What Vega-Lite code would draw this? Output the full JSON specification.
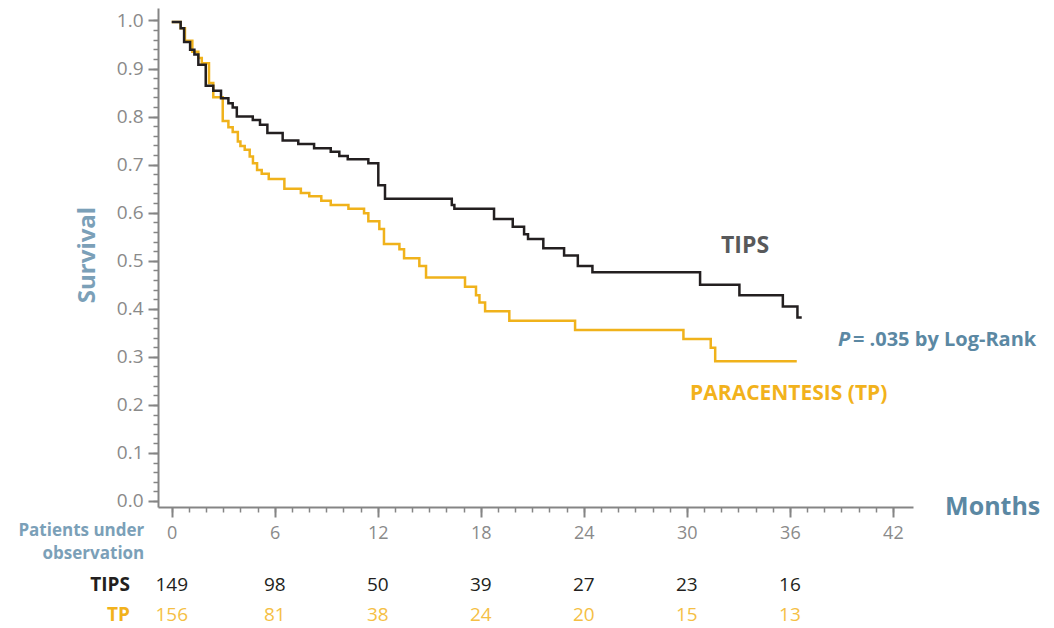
{
  "$schema": "https://vega.github.io/schema/vega-lite/v6.json",
  "width": 755,
  "height": 499,
  "autosize": {"type": "none"},
  "padding": {"left": 158, "top": 8, "right": 141, "bottom": 121},
  "background": "white",
  "config": {
    "view": {"stroke": null},
    "font": "Open Sans",
    "axis": {
      "grid": false, "title": null,
      "domainColor": "#858585", "domainWidth": 2,
      "tickColor": "#858585", "tickWidth": 1.8,
      "labelColor": "#8a8a8a", "labelFont": "Open Sans",
      "labelFlush": false, "labelOverlap": false
    },
    "axisX": {"labelFontSize": 18, "labelPadding": 7},
    "axisY": {"labelFontSize": 19, "labelPadding": 5}
  },
  "resolve": {"axis": {"x": "independent", "y": "independent"}},
  "datasets": {
    "km": [
      {"group": "TP", "month": 0, "surv": 0.997},
      {"group": "TP", "month": 0.52, "surv": 0.984},
      {"group": "TP", "month": 0.77, "surv": 0.958},
      {"group": "TP", "month": 1.2, "surv": 0.935},
      {"group": "TP", "month": 1.55, "surv": 0.922},
      {"group": "TP", "month": 1.75, "surv": 0.911},
      {"group": "TP", "month": 2.17, "surv": 0.87},
      {"group": "TP", "month": 2.42, "surv": 0.84},
      {"group": "TP", "month": 2.97, "surv": 0.791},
      {"group": "TP", "month": 3.3, "surv": 0.778},
      {"group": "TP", "month": 3.55, "surv": 0.768},
      {"group": "TP", "month": 3.85, "surv": 0.748},
      {"group": "TP", "month": 4.0, "surv": 0.739},
      {"group": "TP", "month": 4.25, "surv": 0.731},
      {"group": "TP", "month": 4.54, "surv": 0.717},
      {"group": "TP", "month": 4.73, "surv": 0.703},
      {"group": "TP", "month": 4.97, "surv": 0.689},
      {"group": "TP", "month": 5.24, "surv": 0.681},
      {"group": "TP", "month": 5.65, "surv": 0.67},
      {"group": "TP", "month": 6.56, "surv": 0.65},
      {"group": "TP", "month": 7.52, "surv": 0.641},
      {"group": "TP", "month": 8.01, "surv": 0.634},
      {"group": "TP", "month": 8.71, "surv": 0.625},
      {"group": "TP", "month": 9.26, "surv": 0.616},
      {"group": "TP", "month": 10.29, "surv": 0.608},
      {"group": "TP", "month": 11.2, "surv": 0.599},
      {"group": "TP", "month": 11.45, "surv": 0.582},
      {"group": "TP", "month": 12.09, "surv": 0.566},
      {"group": "TP", "month": 12.36, "surv": 0.535},
      {"group": "TP", "month": 13.26, "surv": 0.524},
      {"group": "TP", "month": 13.53, "surv": 0.505},
      {"group": "TP", "month": 14.42, "surv": 0.489},
      {"group": "TP", "month": 14.81, "surv": 0.465},
      {"group": "TP", "month": 17.08, "surv": 0.446},
      {"group": "TP", "month": 17.72, "surv": 0.428},
      {"group": "TP", "month": 17.92, "surv": 0.413},
      {"group": "TP", "month": 18.25, "surv": 0.395},
      {"group": "TP", "month": 19.66, "surv": 0.375},
      {"group": "TP", "month": 23.49, "surv": 0.356},
      {"group": "TP", "month": 29.8, "surv": 0.337},
      {"group": "TP", "month": 31.39, "surv": 0.319},
      {"group": "TP", "month": 31.65, "surv": 0.291},
      {"group": "TP", "month": 36.4, "surv": 0.291},
      {"group": "TIPS", "month": 0, "surv": 0.997},
      {"group": "TIPS", "month": 0.52, "surv": 0.984},
      {"group": "TIPS", "month": 0.72, "surv": 0.955},
      {"group": "TIPS", "month": 1.07, "surv": 0.939},
      {"group": "TIPS", "month": 1.32, "surv": 0.929},
      {"group": "TIPS", "month": 1.55, "surv": 0.908},
      {"group": "TIPS", "month": 1.98, "surv": 0.864},
      {"group": "TIPS", "month": 2.42, "surv": 0.854},
      {"group": "TIPS", "month": 2.87, "surv": 0.838},
      {"group": "TIPS", "month": 3.3, "surv": 0.828},
      {"group": "TIPS", "month": 3.55, "surv": 0.819},
      {"group": "TIPS", "month": 3.79, "surv": 0.8},
      {"group": "TIPS", "month": 4.72, "surv": 0.793},
      {"group": "TIPS", "month": 5.14, "surv": 0.783},
      {"group": "TIPS", "month": 5.57, "surv": 0.766},
      {"group": "TIPS", "month": 6.46, "surv": 0.75},
      {"group": "TIPS", "month": 7.37, "surv": 0.743},
      {"group": "TIPS", "month": 8.29, "surv": 0.734},
      {"group": "TIPS", "month": 9.26, "surv": 0.727},
      {"group": "TIPS", "month": 9.76, "surv": 0.718},
      {"group": "TIPS", "month": 10.25, "surv": 0.711},
      {"group": "TIPS", "month": 11.45, "surv": 0.703},
      {"group": "TIPS", "month": 12.03, "surv": 0.657},
      {"group": "TIPS", "month": 12.42, "surv": 0.629},
      {"group": "TIPS", "month": 16.31, "surv": 0.616},
      {"group": "TIPS", "month": 16.46, "surv": 0.608},
      {"group": "TIPS", "month": 18.77, "surv": 0.587},
      {"group": "TIPS", "month": 19.86, "surv": 0.571},
      {"group": "TIPS", "month": 20.52, "surv": 0.555},
      {"group": "TIPS", "month": 20.75, "surv": 0.545},
      {"group": "TIPS", "month": 21.64, "surv": 0.526},
      {"group": "TIPS", "month": 22.85, "surv": 0.511},
      {"group": "TIPS", "month": 23.65, "surv": 0.489},
      {"group": "TIPS", "month": 24.5, "surv": 0.476},
      {"group": "TIPS", "month": 30.77, "surv": 0.45},
      {"group": "TIPS", "month": 33.06, "surv": 0.428},
      {"group": "TIPS", "month": 35.59, "surv": 0.405},
      {"group": "TIPS", "month": 36.44, "surv": 0.382},
      {"group": "TIPS", "month": 36.69, "surv": 0.382}
    ],
    "risk": [
      {"group": "TIPS", "month": 0, "n": 149},
      {"group": "TIPS", "month": 6, "n": 98},
      {"group": "TIPS", "month": 12, "n": 50},
      {"group": "TIPS", "month": 18, "n": 39},
      {"group": "TIPS", "month": 24, "n": 27},
      {"group": "TIPS", "month": 30, "n": 23},
      {"group": "TIPS", "month": 36, "n": 16},
      {"group": "TP", "month": 0, "n": 156},
      {"group": "TP", "month": 6, "n": 81},
      {"group": "TP", "month": 12, "n": 38},
      {"group": "TP", "month": 18, "n": 24},
      {"group": "TP", "month": 24, "n": 20},
      {"group": "TP", "month": 30, "n": 15},
      {"group": "TP", "month": 36, "n": 13}
    ],
    "one": [{}]
  },
  "layer": [
    {
      "data": {"name": "km"},
      "transform": [{"filter": "datum.group == 'TIPS'"}],
      "mark": {"type": "line", "interpolate": "step-after", "color": "#231f20", "strokeWidth": 2.4, "opacity": 0},
      "encoding": {
        "x": {
          "field": "month", "type": "quantitative",
          "scale": {"domain": [-0.8, 43.17], "nice": false, "zero": false},
          "axis": {
            "orient": "bottom", "domain": false, "labels": false, "tickSize": 5, "tickWidth": 1.5,
            "values": [0,1,2,3,4,5,6,7,8,9,10,11,12,13,14,15,16,17,18,19,20,21,22,23,24,25,26,27,28,29,30,31,32,33,34,35,36,37,38,39,40,41,42]
          }
        },
        "y": {
          "field": "surv", "type": "quantitative",
          "scale": {"domain": [-0.0125, 1.026], "nice": false, "zero": false},
          "axis": {
            "orient": "left", "domain": false, "labels": false, "tickSize": 5, "tickWidth": 1.5,
            "values": [0,0.02,0.04,0.06,0.08,0.1,0.12,0.14,0.16,0.18,0.2,0.22,0.24,0.26,0.28,0.3,0.32,0.34,0.36,0.38,0.4,0.42,0.44,0.46,0.48,0.5,0.52,0.54,0.56,0.58,0.6,0.62,0.64,0.66,0.68,0.7,0.72,0.74,0.76,0.78,0.8,0.82,0.84,0.86,0.88,0.9,0.92,0.94,0.96,0.98,1.0]
          }
        }
      }
    },
    {
      "data": {"name": "km"},
      "transform": [{"filter": "datum.group == 'TP'"}],
      "mark": {"type": "line", "interpolate": "step-after", "color": "#f0b21b", "strokeWidth": 2.5},
      "encoding": {
        "x": {
          "field": "month", "type": "quantitative",
          "axis": {"orient": "bottom", "tickSize": 10, "tickWidth": 2, "values": [0, 6, 12, 18, 24, 30, 36, 42]}
        },
        "y": {
          "field": "surv", "type": "quantitative",
          "axis": {"orient": "left", "tickSize": 10, "tickWidth": 2, "format": ".1f", "values": [0, 0.1, 0.2, 0.3, 0.4, 0.5, 0.6, 0.7, 0.8, 0.9, 1.0]}
        }
      }
    },
    {
      "data": {"name": "km"},
      "transform": [{"filter": "datum.group == 'TIPS'"}],
      "mark": {"type": "line", "interpolate": "step-after", "color": "#231f20", "strokeWidth": 2.5},
      "encoding": {
        "x": {"field": "month", "type": "quantitative", "axis": null},
        "y": {"field": "surv", "type": "quantitative", "axis": null}
      }
    },
    {
      "data": {"name": "risk"},
      "transform": [{"filter": "datum.group == 'TIPS'"}],
      "mark": {"type": "text", "fontSize": 19, "color": "#231f20", "align": "center", "baseline": "middle"},
      "encoding": {
        "x": {"field": "month", "type": "quantitative", "axis": null},
        "y": {"datum": -0.175, "type": "quantitative", "axis": null},
        "text": {"field": "n", "type": "quantitative"}
      }
    },
    {
      "data": {"name": "risk"},
      "transform": [{"filter": "datum.group == 'TP'"}],
      "mark": {"type": "text", "fontSize": 19, "color": "#f5bf45", "align": "center", "baseline": "middle"},
      "encoding": {
        "x": {"field": "month", "type": "quantitative", "axis": null},
        "y": {"datum": -0.237, "type": "quantitative", "axis": null},
        "text": {"field": "n", "type": "quantitative"}
      }
    },
    {
      "data": {"name": "one"},
      "mark": {"type": "text", "text": "TIPS", "fontSize": 19, "fontWeight": "bold", "color": "#231f20", "align": "right", "baseline": "middle"},
      "encoding": {
        "x": {"datum": -2.43, "type": "quantitative", "axis": null},
        "y": {"datum": -0.175, "type": "quantitative", "axis": null}
      }
    },
    {
      "data": {"name": "one"},
      "mark": {"type": "text", "text": "TP", "fontSize": 19, "fontWeight": "bold", "color": "#f2b21c", "align": "right", "baseline": "middle"},
      "encoding": {
        "x": {"datum": -2.43, "type": "quantitative", "axis": null},
        "y": {"datum": -0.237, "type": "quantitative", "axis": null}
      }
    },
    {
      "data": {"name": "one"},
      "mark": {"type": "text", "text": "Patients under", "fontSize": 17, "fontWeight": "bold", "color": "#7ba0b8", "align": "right", "baseline": "middle"},
      "encoding": {
        "x": {"datum": -1.6, "type": "quantitative", "axis": null},
        "y": {"datum": -0.063, "type": "quantitative", "axis": null}
      }
    },
    {
      "data": {"name": "one"},
      "mark": {"type": "text", "text": "observation", "fontSize": 17, "fontWeight": "bold", "color": "#7ba0b8", "align": "right", "baseline": "middle"},
      "encoding": {
        "x": {"datum": -1.6, "type": "quantitative", "axis": null},
        "y": {"datum": -0.11, "type": "quantitative", "axis": null}
      }
    },
    {
      "data": {"name": "one"},
      "mark": {"type": "text", "text": "Months", "fontSize": 25, "fontWeight": "bold", "color": "#5b88a3", "align": "left", "baseline": "middle"},
      "encoding": {
        "x": {"datum": 45.04, "type": "quantitative", "axis": null},
        "y": {"datum": -0.0125, "type": "quantitative", "axis": null}
      }
    },
    {
      "data": {"name": "one"},
      "mark": {"type": "text", "text": "Survival", "fontSize": 24, "fontWeight": "bold", "color": "#7ba0b8", "align": "center", "baseline": "middle", "angle": 270},
      "encoding": {
        "x": {"datum": -4.87, "type": "quantitative", "axis": null},
        "y": {"datum": 0.512, "type": "quantitative", "axis": null}
      }
    },
    {
      "data": {"name": "one"},
      "mark": {"type": "text", "text": "TIPS", "fontSize": 23, "fontWeight": "bold", "color": "#58595b", "align": "center", "baseline": "middle"},
      "encoding": {
        "x": {"datum": 33.39, "type": "quantitative", "axis": null},
        "y": {"datum": 0.531, "type": "quantitative", "axis": null}
      }
    },
    {
      "data": {"name": "one"},
      "mark": {"type": "text", "text": "PARACENTESIS (TP)", "fontSize": 21, "fontWeight": "bold", "color": "#f2b21c", "align": "left", "baseline": "middle"},
      "encoding": {
        "x": {"datum": 30.19, "type": "quantitative", "axis": null},
        "y": {"datum": 0.223, "type": "quantitative", "axis": null}
      }
    },
    {
      "data": {"name": "one"},
      "mark": {"type": "text", "text": "P", "fontSize": 20, "fontWeight": "bold", "fontStyle": "italic", "color": "#5b88a3", "align": "left", "baseline": "middle"},
      "encoding": {
        "x": {"datum": 38.8, "type": "quantitative", "axis": null},
        "y": {"datum": 0.335, "type": "quantitative", "axis": null}
      }
    },
    {
      "data": {"name": "one"},
      "mark": {"type": "text", "text": "= .035 by Log-Rank", "fontSize": 20, "fontWeight": "bold", "color": "#5b88a3", "align": "left", "baseline": "middle"},
      "encoding": {
        "x": {"datum": 39.67, "type": "quantitative", "axis": null},
        "y": {"datum": 0.335, "type": "quantitative", "axis": null}
      }
    }
  ]
}
